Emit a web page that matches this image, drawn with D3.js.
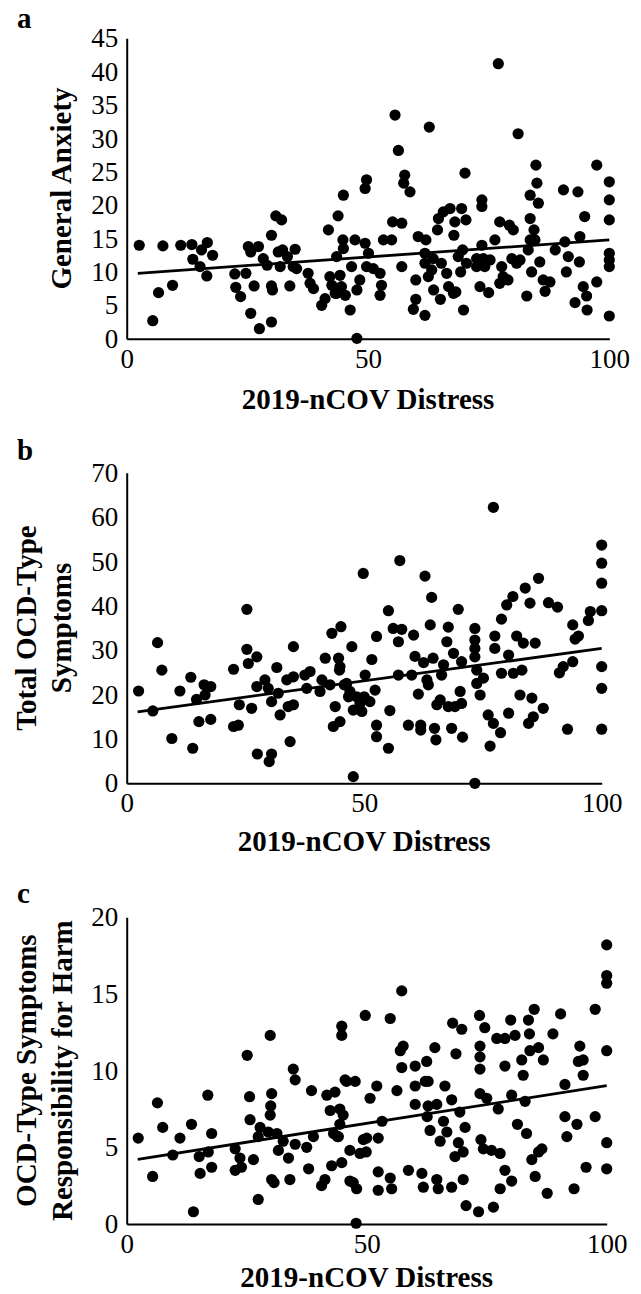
<!DOCTYPE html>
<html>
<head>
<meta charset="utf-8">
<script src="https://cdn.jsdelivr.net/npm/d3@7"></script>
<style>
  body { margin: 0; background: #fff; }
  svg { display: block; }
  text { font-family: "Liberation Serif", "Times New Roman", serif; fill: #000; }
</style>
</head>
<body>
<svg id="chart" width="641" height="1294"></svg>
<script>
// panel a: distress vs general anxiety
const anxietyPoints = [
  [2.6,14.0],[5.4,2.7],[6.6,6.9],[7.5,13.9],[9.5,8.0],[11.2,14.0],[13.5,14.1],[13.7,11.9],[15.2,10.8],[16.6,9.4],
  [16.7,14.4],[17.8,12.5],[15.5,13.3],[22.4,9.7],[22.6,7.7],[23.6,6.3],[24.7,9.8],[25.2,13.8],[25.7,13.0],[27.3,13.8],
  [25.7,3.8],[26.4,7.9],[27.5,1.5],[28.3,12.0],[29.1,11.0],[30.0,15.5],[30.0,2.5],[30.0,7.9],[30.2,7.3],[30.9,18.4],
  [32.1,17.8],[31.4,13.0],[32.3,13.3],[31.8,10.8],[33.3,12.3],[33.8,7.9],[34.9,13.4],[34.5,10.8],[35.2,10.5],[37.6,9.8],
  [38.0,8.3],[38.7,7.5],[40.4,5.0],[41.1,6.0],[41.8,16.3],[42.5,8.0],[43.2,6.8],[43.5,12.3],[43.8,18.4],[44.2,9.5],
  [44.5,7.8],[44.9,21.5],[44.8,14.8],[44.9,13.5],[45.3,6.5],[46.3,4.3],[46.6,10.8],[47.7,0.05],[47.3,14.8],[47.7,7.3],
  [48.3,8.8],[49.4,22.5],[49.7,23.8],[49.4,14.3],[49.7,10.8],[50.1,12.8],[42.1,9.3],[43.5,6.8],
  [51.1,10.5],[52.5,9.8],[52.8,8.0],[52.5,6.5],[53.2,14.8],[54.9,14.8],[55.1,17.5],[55.6,33.5],[56.3,28.2],[57.0,17.3],
  [57.0,10.8],[57.6,24.5],[57.4,23.3],[58.7,22.0],[59.9,8.8],[59.9,5.9],[59.4,4.4],[60.4,15.3],[61.8,3.5],[62.0,14.8],
  [61.8,12.8],[61.8,11.3],[62.7,31.7],[62.5,9.3],[63.5,12.0],[63.6,7.3],[64.4,16.3],[64.6,18.0],[65.0,5.9],[65.6,19.0],
  [66.3,9.8],[66.7,7.8],[67.0,19.5],[67.8,15.5],[68.0,17.5],[68.2,7.0],[68.7,12.3],[69.4,19.5],[69.2,10.0],[69.6,13.3],
  [70.1,24.8],[70.3,17.8],[69.8,4.3],[70.4,11.3],[72.5,10.8],[73.2,7.8],[73.6,19.8],[73.6,20.8],[73.6,14.0],[73.9,12.0],
  [75.0,6.9],[75.3,11.8],[76.3,14.8],[77.0,41.2],[77.3,17.5],[77.3,8.3],[77.7,10.8],[78.0,9.3],[79.0,8.8],[79.3,17.0],
  [80.1,16.3],[79.8,12.0],[81.1,30.7],[81.5,11.8],[82.9,6.4],[83.2,13.3],[83.6,21.5],[83.6,18.0],[83.9,10.0],[84.4,16.3],
  [84.8,26.0],[85.0,23.3],[85.3,20.3],[84.6,14.8],[85.6,11.5],[86.3,8.8],[86.7,7.1],[87.7,8.5],[88.8,13.3],[90.5,22.3],
  [90.8,14.5],[91.1,10.0],[91.5,12.3],[92.9,5.4],[93.5,22.0],[93.9,15.3],[93.8,11.5],[94.6,7.8],[94.9,18.3],[95.3,6.4],
  [95.4,4.3],[97.4,26.0],[97.4,8.5],[100,23.5],[100,20.8],[100,17.8],[100,12.8],[100,11.8],[100,10.8],[100,3.4],
  [63.2,10.3],[65.2,11.3],[67.7,6.8],[72.5,12.0],[74.2,10.8],[80.8,11.3],[83.6,14.8]
];
const anxietyTrend = [[2.3, 9.8], [100, 14.8]];
const anxietyTicks = [0, 5, 10, 15, 20, 25, 30, 35, 40, 45];

// panel b: distress vs total OCD-type symptoms
const ocdTotalPoints = [
  [2.5,20.8],[5.5,16.3],[6.5,31.7],[7.4,25.5],[9.5,10.1],[11.2,20.8],[13.5,23.9],[13.9,7.9],[14.7,18.9],[15.2,13.9],
  [16.3,22.2],[16.5,19.9],[17.7,21.8],[17.7,14.4],[22.5,25.7],[22.5,12.8],[23.5,13.1],[23.7,17.7],[25.3,39.2],[25.3,30.2],
  [25.6,27.0],[27.4,28.5],[26.3,16.9],[27.4,21.8],[27.5,6.6],[29.1,23.3],[30.0,4.9],[30.5,6.6],[29.8,21.4],[30.5,18.4],
  [31.6,26.1],[31.9,20.3],[32.3,15.4],[33.7,23.3],[34.0,17.3],[34.4,9.4],[35.1,30.8],[35.1,24.0],[35.1,17.7],[37.5,24.4],
  [37.9,21.4],[38.6,25.2],[40.7,20.7],[41.1,23.3],[41.8,28.2],[42.8,22.2],[43.2,33.8],[44.6,28.2],[45.1,35.3],[44.8,25.5],
  [43.9,17.3],[43.5,12.8],[44.9,13.9],[46.3,22.5],[46.7,19.5],[47.4,30.8],[47.7,1.5],[47.7,16.5],[48.4,19.5],[49.1,18.0],
  [49.5,16.2],[49.8,47.3],[50.2,24.4],[51.6,27.9],[52.6,33.1],[52.6,13.1],[52.6,10.5],[52.3,21.0],
  [55.1,38.9],[55.1,7.9],[55.4,16.4],[56.1,34.9],[57.2,24.4],[57.2,31.9],[57.5,50.2],[57.9,34.7],[59.3,13.1],[60.0,24.4],
  [60.4,33.4],[60.7,28.6],[61.4,20.1],[61.9,13.1],[61.9,12.0],[62.5,27.2],[62.8,46.7],[63.2,23.3],[63.5,22.2],[63.9,35.7],
  [64.2,41.9],[64.5,28.2],[64.8,12.4],[65.1,9.8],[65.3,17.7],[66.0,18.8],[66.3,24.4],[66.7,26.7],[67.4,31.9],[67.7,35.2],
  [67.7,17.3],[68.4,12.4],[68.8,29.3],[69.1,17.3],[69.8,39.2],[70.2,20.7],[70.5,18.0],[70.5,27.4],[70.7,10.4],[73.3,34.9],
  [73.3,32.3],[73.3,30.4],[73.3,28.5],[73.3,0],[73.7,25.5],[73.7,22.5],[74.4,19.9],[75.1,23.7],[76.1,15.4],[76.5,8.4],
  [77.2,62.2],[77.5,33.2],[77.5,30.4],[77.2,13.5],[78.7,11.4],[78.9,37.0],[78.9,24.8],[80.0,40.2],[80.4,28.9],[80.4,15.8],
  [81.3,42.1],[81.4,24.8],[82.1,33.2],[82.8,19.9],[83.2,25.5],[83.5,31.6],[83.9,44.0],[84.6,13.5],[84.9,40.6],[85.3,19.2],
  [85.6,15.0],[86.0,31.6],[86.7,46.2],[87.7,16.9],[88.8,40.7],[90.7,39.7],[91.1,24.9],[91.9,26.3],[92.8,12.2],[93.9,35.7],
  [93.9,27.4],[94.4,32.5],[95.1,33.2],[97.2,36.7],[97.6,38.7],[100,53.7],[100,49.6],[100,45.1],[100,38.9],[100,26.3],
  [100,21.4],[100,12.2],
  [44.9,26.3],[51.2,18.4],[50.0,19.5],[47.0,20.7],[45.8,22.2]
];
const ocdTotalTrend = [[2.3, 16.1], [100, 30.4]];
const ocdTotalTicks = [0, 10, 20, 30, 40, 50, 60, 70];

// panel c: distress vs responsibility for harm
const harmPoints = [
  [2.4,5.6],[5.4,3.1],[6.4,7.9],[7.5,6.3],[9.6,4.5],[11.1,5.6],[13.5,6.5],[13.9,0.8],[15.1,4.4],[15.3,3.3],
  [16.9,8.4],[17.0,4.7],[17.7,5.9],[17.7,3.7],[22.6,4.9],[22.6,3.5],[23.6,4.3],[23.9,3.7],[25.1,11.0],[25.6,8.3],
  [25.7,6.8],[26.4,4.2],[27.4,1.6],[27.4,5.7],[27.8,6.3],[29.9,12.3],[30.2,8.5],[30.0,7.7],[29.9,7.1],[30.2,2.9],
  [30.7,2.7],[29.5,6.0],[31.3,5.9],[31.6,4.8],[32.6,5.4],[33.7,4.3],[34.0,2.9],[34.7,10.1],[35.1,9.4],[35.1,5.2],
  [37.5,5.0],[37.9,3.6],[38.5,8.7],[38.9,5.7],[40.6,2.5],[41.3,2.9],[41.7,8.4],[42.4,7.4],[42.7,3.8],[43.1,5.9],
  [43.4,8.6],[43.9,5.7],[44.4,7.5],[44.8,12.9],[44.8,12.3],[44.8,4.0],[45.1,7.1],[44.4,6.5],[45.8,9.3],[47.6,9.3],
  [46.5,4.8],[46.5,2.8],[47.8,0.05],[47.9,2.3],[48.6,4.6],[49.7,13.6],[50.0,5.6],[49.9,4.7],[50.7,8.2],[52.1,9.0],
  [52.4,5.6],[52.4,3.4],[52.4,2.2],
  [53.2,6.7],[54.9,3.0],[55.2,2.3],[54.9,13.4],[56.3,8.7],[57.3,15.2],[57.0,11.3],[57.6,11.6],[57.3,10.2],[58.7,3.5],
  [60.1,10.3],[60.1,9.0],[60.1,7.8],[61.5,3.3],[61.8,2.4],[62.5,10.6],[62.2,9.3],[62.8,9.3],[62.8,7.7],[62.6,7.0],
  [63.2,6.1],[64.2,11.5],[64.6,7.8],[64.6,2.9],[64.9,2.3],[65.3,5.4],[66.0,6.7],[66.3,9.0],[66.7,6.0],[67.7,8.1],
  [67.7,2.4],[67.9,13.1],[68.6,11.1],[69.1,5.3],[68.4,4.4],[69.4,7.3],[69.8,12.7],[70.1,2.9],[70.1,4.7],[70.5,6.3],
  [70.7,1.2],[73.3,0.8],[73.5,13.6],[73.6,11.6],[73.6,10.9],[73.6,10.1],[73.6,8.5],[73.8,5.5],[74.3,4.9],[74.6,12.8],
  [75.0,8.2],[76.0,4.8],[76.4,1.1],[77.1,12.1],[77.4,7.5],[77.8,4.6],[77.8,2.3],[78.8,3.5],[78.8,12.1],[78.8,10.3],
  [80.2,8.4],[80.2,2.8],[80.0,13.3],[80.9,12.3],[81.4,6.5],[82.3,10.7],[82.6,9.7],[83.0,8.0],[83.3,5.9],[83.7,13.3],
  [83.9,12.4],[84.0,11.3],[84.4,4.2],[84.9,14.0],[85.1,3.1],[85.8,11.5],[85.8,4.7],[86.5,4.9],[86.8,10.7],[87.6,2.0],
  [88.8,12.4],[90.4,13.7],[91.3,9.1],[91.3,7.0],[91.7,5.7],[93.2,2.3],[93.8,6.5],[94.1,10.6],[94.4,11.6],[95.1,10.7],
  [95.1,9.7],[95.7,3.7],[97.6,14.0],[97.6,7.0],[100,18.2],[100,16.2],[100,15.7],[100,11.3],[100,5.3],[100,3.6],
  [47.2,2.7],[49.3,5.5],[44.1,5.7],[45.5,9.4]
];
const harmTrend = [[2.3, 4.22], [100, 9.02]];
const harmTicks = [0, 5, 10, 15, 20];

const distressTicks = [0, 50, 100];
const xTitle = '2019-nCOV Distress';
const SERIF = '"Liberation Serif", "Times New Roman", serif';

class ScatterPanel {
    constructor(svg, opts) {
        this.svg = svg;
        this.opts = opts;

        this.X_LEFT = 126.7;
        this.TICK_FONT = 27;
        this.TITLE_FONT = 29;

        this.xScale = d3.scaleLinear()
            .domain([0, 100])
            .range([this.X_LEFT, opts.xRight]);

        this.yScale = d3.scaleLinear()
            .domain([0, opts.yMax])
            .range([opts.bottom, opts.top]);

        this.g = svg.append('g');
        this.drawChart();
    }

    drawChart() {
        this.drawAxis();
        this.drawCircles();
        this.drawTrend();
        this.drawLabels();
    }

    drawAxis() {
        let yAxis = d3.axisLeft(this.yScale)
            .tickValues(this.opts.yTicks)
            .tickSize(0)
            .tickSizeOuter(0)
            .tickPadding(8.5);

        let xAxis = d3.axisBottom(this.xScale)
            .tickValues(distressTicks)
            .tickSize(0)
            .tickSizeOuter(0)
            .tickPadding(10);

        let ySel = this.g.append('g')
            .attr('transform', `translate(${this.X_LEFT}, 0)`)
            .call(yAxis);
        let xSel = this.g.append('g')
            .attr('transform', `translate(0, ${this.opts.bottom})`)
            .call(xAxis);

        [ySel, xSel].forEach(s => {
            s.attr('font-family', SERIF).attr('font-size', this.TICK_FONT);
            s.select('.domain').attr('stroke', '#000').attr('stroke-width', 2);
            s.selectAll('text')
                .style('font-family', SERIF)
                .style('font-size', this.TICK_FONT + 'px')
                .attr('fill', '#000');
        });
    }

    drawCircles() {
        this.g.append('g')
            .selectAll('circle')
            .data(this.opts.points)
            .join('circle')
            .attr('cx', d => this.xScale(d[0]))
            .attr('cy', d => this.yScale(d[1]))
            .attr('r', 5.6)
            .attr('fill', '#000');
    }

    drawTrend() {
        let line = d3.line()
            .x(d => this.xScale(d[0]))
            .y(d => this.yScale(d[1]));
        this.g.append('path')
            .datum(this.opts.trend)
            .attr('d', line)
            .attr('fill', 'none')
            .attr('stroke', '#000')
            .attr('stroke-width', 2.8);
    }

    drawLabels() {
        let o = this.opts;
        let midX = (this.X_LEFT + o.xRight) / 2;
        let midY = (o.top + o.bottom) / 2;

        // x title
        this.g.append('text')
            .attr('x', midX)
            .attr('y', o.bottom + o.xTitleGap)
            .attr('text-anchor', 'middle')
            .style('font-family', SERIF)
            .style('font-size', this.TITLE_FONT + 'px')
            .style('font-weight', 'bold')
            .text(xTitle);

        // y title, one or two lines
        o.yTitle.forEach((line, i) => {
            this.g.append('text')
                .attr('transform', `translate(${o.yTitleX[i]}, ${midY}) rotate(-90)`)
                .attr('text-anchor', 'middle')
                .attr('dy', '0.35em')
                .style('font-family', SERIF)
                .style('font-size', this.TITLE_FONT + 'px')
                .style('font-weight', 'bold')
                .text(line);
        });

        // panel letter
        this.g.append('text')
            .attr('x', 17)
            .attr('y', o.letterY)
            .style('font-family', SERIF)
            .style('font-size', this.TITLE_FONT + 'px')
            .style('font-weight', 'bold')
            .text(o.letter);
    }
}

const svg = d3.select('#chart');

new ScatterPanel(svg, {
    letter: 'a', letterY: 28,
    top: 38.3, bottom: 338.7, xRight: 609.3, yMax: 45, xTitleGap: 70,
    yTicks: anxietyTicks, points: anxietyPoints, trend: anxietyTrend,
    yTitle: ['General Anxiety'], yTitleX: [61]
});

new ScatterPanel(svg, {
    letter: 'b', letterY: 460,
    top: 472.7, bottom: 783.3, xRight: 601.7, yMax: 70, xTitleGap: 68,
    yTicks: ocdTotalTicks, points: ocdTotalPoints, trend: ocdTotalTrend,
    yTitle: ['Total OCD-Type', 'Symptoms'], yTitleX: [26, 61]
});

new ScatterPanel(svg, {
    letter: 'c', letterY: 903,
    top: 917.3, bottom: 1224, xRight: 606.7, yMax: 20, xTitleGap: 63,
    yTicks: harmTicks, points: harmPoints, trend: harmTrend,
    yTitle: ['OCD-Type Symptoms', 'Responsibility for Harm'], yTitleX: [26, 62]
});
</script>
</body>
</html>
